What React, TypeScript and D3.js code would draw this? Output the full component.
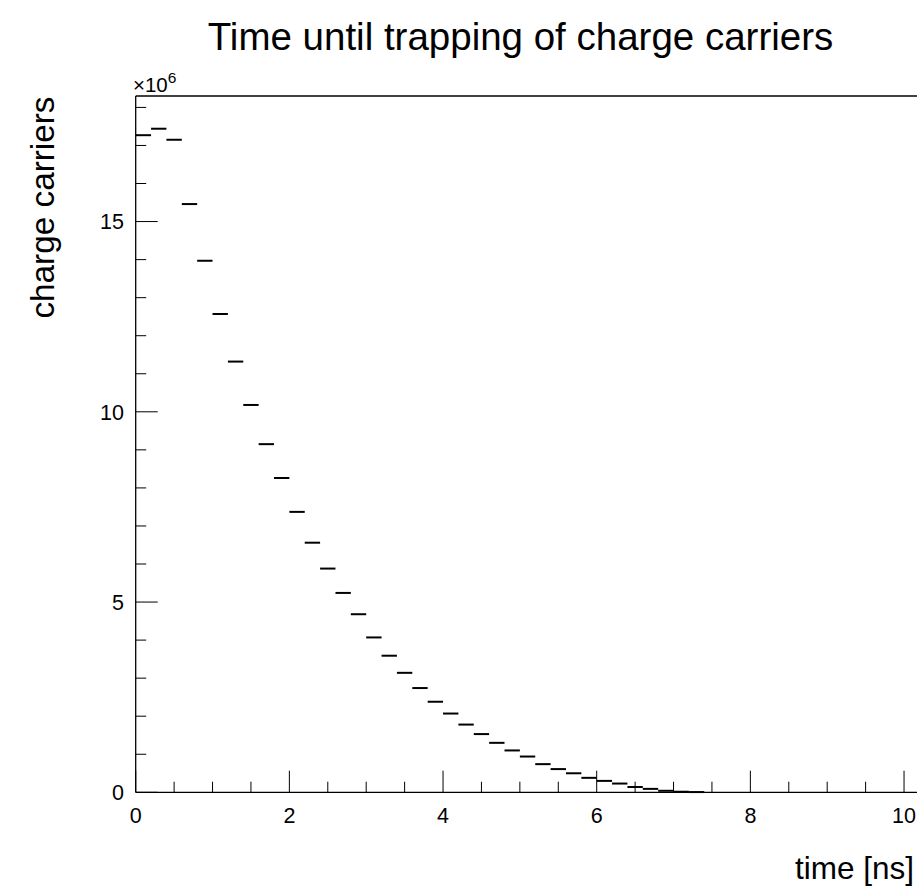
import React from "react";
import * as d3 from "d3";

// Histogram: bin width 0.2 ns starting at 0; values in units of 1e6
const binWidth = 0.2;
const counts = [
  17.27, 17.44, 17.15, 15.46, 13.97, 12.57, 11.32, 10.18, 9.15, 8.26,
  7.37, 6.56, 5.88, 5.24, 4.68, 4.07, 3.59, 3.14, 2.74, 2.38,
  2.07, 1.78, 1.53, 1.30, 1.10, 0.94, 0.74, 0.61, 0.50, 0.38,
  0.30, 0.23, 0.14, 0.09, 0.04, 0.015, 0.006,
];
const xMajorTicks = [0, 2, 4, 6, 8, 10];
const yMajorTicks = [0, 5, 10, 15];
const titleText = "Time until trapping of charge carriers";
const xTitle = "time [ns]";
const yTitle = "charge carriers";

const W = 917;
const H = 889;
const FONT = "'Liberation Sans', Arial, Helvetica, sans-serif";

export default function App() {
  const left = 135.7;
  const top = 96;
  const bottom = 792.3;
  const x = d3.scaleLinear().domain([0, 10.2]).range([left, 919.4]);
  const y = d3.scaleLinear().domain([0, 18.3]).range([bottom, top]);

  const xMinor = d3.range(0, 10.2 + 1e-9, 0.5).filter(
    (v) => Math.abs(v / 2 - Math.round(v / 2)) > 1e-6
  );
  const yMinor = d3.range(0, 18.3, 1).filter((v) => v % 5 !== 0);

  return (
    <svg
      width={W}
      height={H}
      style={{ position: "absolute", left: 0, top: 0, background: "#fff" }}
      fontFamily={FONT}
    >
      <rect x={0} y={0} width={W} height={H} fill="#fff" />
      {/* title */}
      <text x={520.5} y={49.5} fontSize={38.5} textAnchor="middle" fill="#000">
        {titleText}
      </text>

      {/* frame lines */}
      <line x1={left} x2={W} y1={top} y2={top} stroke="#000" strokeWidth={1.3} />
      <line x1={left} x2={left} y1={top} y2={bottom} stroke="#000" strokeWidth={1.3} />
      <line x1={left} x2={W} y1={bottom} y2={bottom} stroke="#000" strokeWidth={1.3} />

      {/* x ticks */}
      {xMajorTicks.map((t) => (
        <g key={"xM" + t}>
          <line x1={x(t)} x2={x(t)} y1={bottom} y2={bottom - 21.6} stroke="#000" strokeWidth={1} />
          <text x={x(t)} y={823} fontSize={21.5} textAnchor="middle" fill="#000">
            {t}
          </text>
        </g>
      ))}
      {xMinor.map((t) => (
        <line key={"xm" + t} x1={x(t)} x2={x(t)} y1={bottom} y2={bottom - 10.6} stroke="#000" strokeWidth={1} />
      ))}

      {/* y ticks */}
      {yMajorTicks.map((t) => (
        <g key={"yM" + t}>
          <line x1={left} x2={left + 22} y1={y(t)} y2={y(t)} stroke="#000" strokeWidth={1} />
          <text x={124} y={y(t) + 7.8} fontSize={21.5} textAnchor="end" fill="#000">
            {t}
          </text>
        </g>
      ))}
      {yMinor.map((t) => (
        <line key={"ym" + t} x1={left} x2={left + 10.5} y1={y(t)} y2={y(t)} stroke="#000" strokeWidth={1} />
      ))}

      {/* exponent */}
      <text x={133} y={91.7} fontSize={20.5} fill="#000">
        ×10
        <tspan dy={-9} fontSize={15.5}>6</tspan>
      </text>

      {/* axis titles */}
      <text x={914} y={879} fontSize={31.5} textAnchor="end" fill="#000">
        {xTitle}
      </text>
      <text
        transform={`translate(54,96.5) rotate(-90)`}
        fontSize={33.3}
        textAnchor="end"
        fill="#000"
      >
        {yTitle}
      </text>

      {/* histogram bins (horizontal error-bar markers) */}
      {counts.map((v, i) => (
        <line
          key={"b" + i}
          x1={x(i * binWidth)}
          x2={x((i + 1) * binWidth)}
          y1={y(v)}
          y2={y(v)}
          stroke="#000"
          strokeWidth={2}
        />
      ))}
    </svg>
  );
}
